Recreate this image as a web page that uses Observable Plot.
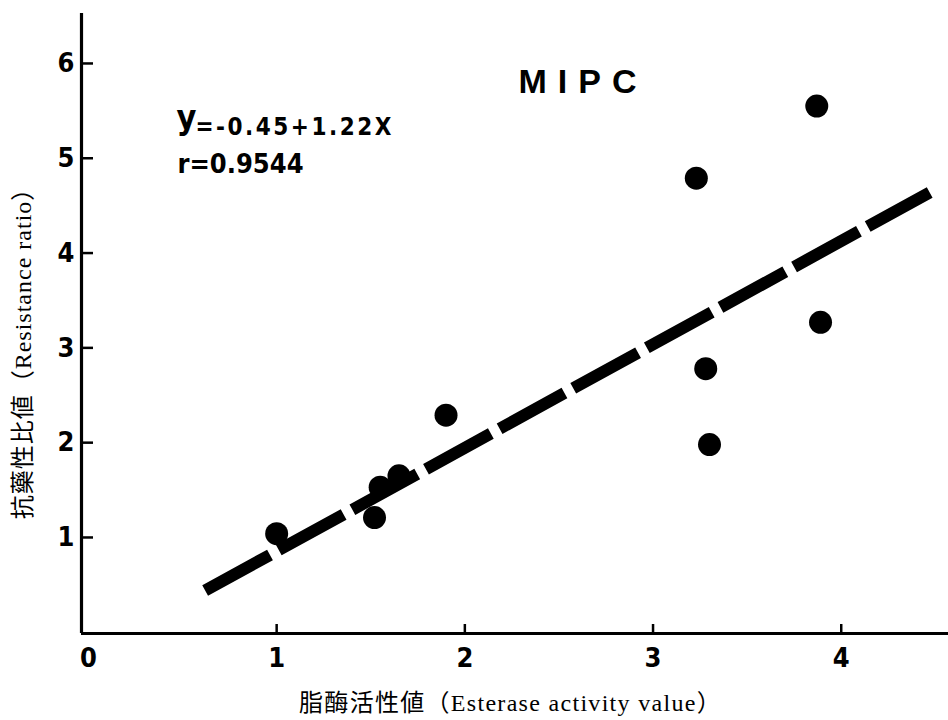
<!DOCTYPE html>
<html><head><meta charset="utf-8">
<script src="https://cdn.jsdelivr.net/npm/d3@7"></script>
<script src="https://cdn.jsdelivr.net/npm/@observablehq/plot@0.6"></script>
<style>body{margin:0;background:#fff;} svg{display:block;}</style>
</head><body><div id="chart"></div>
<script>
// Data
const esterase   = [1.00, 1.52, 1.55, 1.65, 1.90, 3.23, 3.28, 3.30, 3.87, 3.89];
const resistance = [1.04, 1.21, 1.53, 1.65, 2.29, 4.79, 2.78, 1.98, 5.55, 3.27];
const fitX = [0.62, 4.47];
const fitY = [0.44, 4.64];
const xTicks = [0, 1, 2, 3, 4];
const yTicks = [1, 2, 3, 4, 5, 6];
const xDomain = [-0.037, 4.57];
const yDomain = [-0.013, 6.527];
const titleText = ["MIPC"];
const eqY = ["y"];
const eqRest = ["=-0.45+1.22X"];
const eqR = ["r=0.9544"];
const xLabel = ["脂酶活性値（Esterase activity value）"];
const yLabel = ["抗藥性比値（Resistance ratio）"];

const points = esterase.map((x, i) => ({x, y: resistance[i]}));
const fit = fitX.map((x, i) => ({x, y: fitY[i]}));

const tickFont = "'Liberation Sans Narrow', 'DejaVu Sans Condensed', 'DejaVu Sans', sans-serif";
const labelFont = "'Liberation Serif', 'Noto Sans CJK JP', serif";

const plot = Plot.plot({
  width: 948, height: 720,
  marginLeft: 81, marginRight: 0, marginTop: 13, marginBottom: 87,
  x: {domain: xDomain, label: null},
  y: {domain: yDomain, label: null},
  style: {background: "#fff", color: "#000"},
  marks: [
    Plot.ruleX([xDomain[0]], {stroke: "#000", strokeWidth: 3.2}),
    Plot.ruleY([yDomain[0]], {stroke: "#000", strokeWidth: 3.2}),
    Plot.ruleX(xTicks.filter(d => d > 0), {y1: yDomain[0], y2: yDomain[0], insetTop: -9, stroke: "#000", strokeWidth: 2.5}),
    Plot.ruleY(yTicks, {x1: xDomain[0], x2: xDomain[0], insetRight: -12, stroke: "#000", strokeWidth: 2.5}),
    Plot.axisX({ticks: xTicks, tickFormat: d => String(d), tickSize: 0, tickPadding: 14, fontSize: 27, fontWeight: "bold", fontFamily: tickFont, label: null}),
    Plot.axisY({ticks: yTicks, tickFormat: d => String(d), tickSize: 0, tickPadding: 7, fontSize: 27, fontWeight: "bold", fontFamily: tickFont, label: null}),
    Plot.line(fit, {x: "x", y: "y", stroke: "#000", strokeWidth: 12, strokeDasharray: "74,10", strokeLinecap: "butt"}),
    Plot.dot(points, {x: "x", y: "y", r: 11.5, fill: "#000", stroke: null}),
    Plot.text(titleText, {text: d => d, frameAnchor: "top-left", dx: 437, dy: 79, textAnchor: "start", lineAnchor: "bottom", fontSize: 34, fontWeight: "bold", fontFamily: "'Liberation Sans', Arial, sans-serif"}),
    Plot.text(eqY, {text: d => d, frameAnchor: "top-left", dx: 95, dy: 115, textAnchor: "start", lineAnchor: "bottom", fontSize: 34, fontWeight: "bold", fontFamily: tickFont}),
    Plot.text(eqRest, {text: d => d, frameAnchor: "top-left", dx: 114, dy: 121, textAnchor: "start", lineAnchor: "bottom", fontSize: 24, fontWeight: "bold", fontFamily: tickFont}),
    Plot.text(eqR, {text: d => d, frameAnchor: "top-left", dx: 96, dy: 159, textAnchor: "start", lineAnchor: "bottom", fontSize: 27, fontWeight: "bold", fontFamily: tickFont}),
    Plot.text(xLabel, {text: d => d, frameAnchor: "bottom", dx: 510 - (81 + 948) / 2, dy: 77, textAnchor: "middle", lineAnchor: "bottom", fontSize: 24, fontFamily: labelFont}),
    Plot.text(yLabel, {text: d => d, frameAnchor: "left", dx: -58, dy: 24, rotate: -90, textAnchor: "middle", lineAnchor: "middle", fontSize: 24, fontFamily: labelFont})
  ]
});

const spacing = {"MIPC": 11, "=-0.45+1.22X": 2.5, "r=0.9544": 0,
  [xLabel[0]]: 1.3, [yLabel[0]]: 1.0};
d3.select(plot).selectAll("text").each(function () {
  const t = this.textContent;
  if (spacing[t] != null) this.style.letterSpacing = spacing[t] + "px";
});
document.getElementById("chart").appendChild(plot);
</script>
</body></html>
